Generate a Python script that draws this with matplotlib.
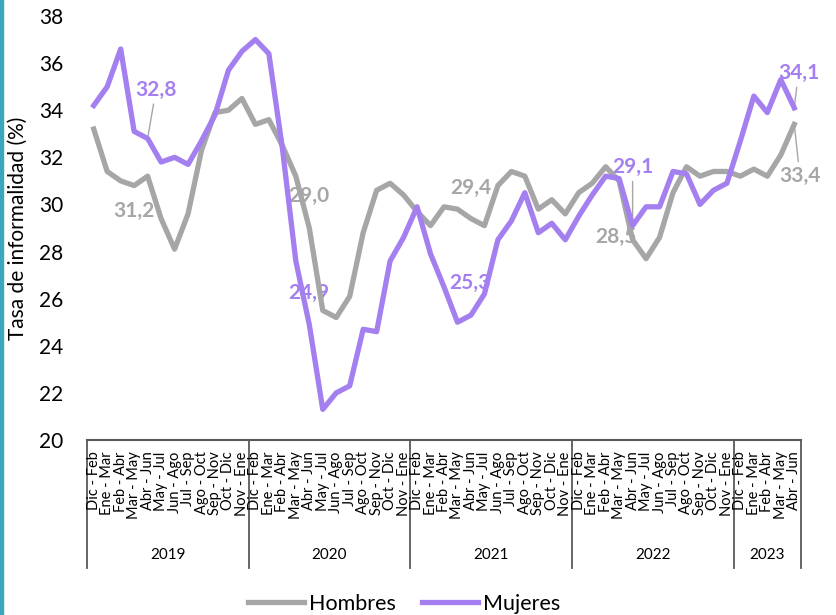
import matplotlib
matplotlib.use('Agg')
import matplotlib.pyplot as plt
from matplotlib.patches import Rectangle

plt.rcParams['font.family'] = ['Lato', 'DejaVu Sans']

# Datos: trimestres moviles 2019 - 2023
trimestres = ["Dic - Feb", "Ene - Mar", "Feb - Abr", "Mar - May", "Abr - Jun", "May - Jul",
              "Jun - Ago", "Jul - Sep", "Ago - Oct", "Sep - Nov", "Oct - Dic", "Nov - Ene"]
anios = ["2019", "2020", "2021", "2022", "2023"]
n_por_anio = [12, 12, 12, 12, 5]

etiquetas = []
for n in n_por_anio:
    etiquetas += trimestres[:n]

hombres = [33.2, 31.4, 31.0, 30.8, 31.2, 29.4, 28.1, 29.6, 32.3, 33.9, 34.0, 34.5,
           33.4, 33.6, 32.5, 31.2, 29.0, 25.5, 25.2, 26.1, 28.8, 30.6, 30.9, 30.4,
           29.7, 29.1, 29.9, 29.8, 29.4, 29.1, 30.8, 31.4, 31.2, 29.8, 30.2, 29.6,
           30.5, 30.9, 31.6, 31.0, 28.5, 27.7, 28.6, 30.5, 31.6, 31.2, 31.4, 31.4,
           31.2, 31.5, 31.2, 32.1, 33.4]
mujeres = [34.2, 35.0, 36.6, 33.1, 32.8, 31.8, 32.0, 31.7, 32.7, 33.8, 35.7, 36.5,
           37.0, 36.4, 32.4, 27.6, 24.9, 21.3, 22.0, 22.3, 24.7, 24.6, 27.6, 28.6,
           29.9, 27.9, 26.5, 25.0, 25.3, 26.2, 28.5, 29.3, 30.5, 28.8, 29.2, 28.5,
           29.5, 30.4, 31.2, 31.1, 29.1, 29.9, 29.9, 31.4, 31.3, 30.0, 30.6, 30.9,
           32.7, 34.6, 33.9, 35.3, 34.1]

# (serie, indice, desplazamiento en puntos, con linea guia)
etiquetas_datos = [
    ("m", 4, (6, 35), True),
    ("h", 4, (-10, -25), False),
    ("m", 16, (0, 23), False),
    ("h", 16, (0, 23), False),
    ("m", 28, (-1, 23), False),
    ("h", 28, (0, 22), False),
    ("m", 40, (0, 42), True),
    ("h", 40, (-12, 2), False),
    ("m", 52, (3, 25), True),
    ("h", 52, (4, -37), True),
]

GRIS = "#A6A6A6"
MORADO = "#A47FEF"
EJE = "#595959"

fig = plt.figure(figsize=(8.36, 6.15), dpi=100)
ax = fig.add_axes([87 / 836, 1 - 440 / 615, 714 / 836, 424 / 615])

x = list(range(len(etiquetas)))
ax.plot(x, hombres, color=GRIS, linewidth=3.8, label="Hombres", zorder=3,
        solid_joinstyle="round")
ax.plot(x, mujeres, color=MORADO, linewidth=3.8, label="Mujeres", zorder=4,
        solid_joinstyle="round")

ax.set_xlim(-0.5, len(etiquetas) - 0.5)
ax.set_ylim(20, 38)
ax.set_yticks(range(20, 39, 2))
ax.tick_params(axis="y", length=0, pad=17, labelsize=15)
ax.set_xticks([])
ax.set_ylabel("Tasa de informalidad (%)", fontsize=15)
ax.yaxis.set_label_coords(-0.083, 0.5)

for lado in ["left", "right", "top"]:
    ax.spines[lado].set_visible(False)
ax.spines["bottom"].set_color(EJE)
ax.spines["bottom"].set_linewidth(1.5)

# Eje de categorias multinivel
tr = ax.get_xaxis_transform()
for i, lab in enumerate(etiquetas):
    ax.text(i, -0.027, lab, transform=tr, rotation=90, ha="center", va="top",
            fontsize=10.5, color="black", clip_on=False)

inicio = -0.5
ax.plot([inicio, inicio], [0, -0.302], transform=tr, color=EJE, lw=1.3, clip_on=False)
for anio, n in zip(anios, n_por_anio):
    fin = inicio + n
    ax.plot([fin, fin], [0, -0.302], transform=tr, color=EJE, lw=1.3, clip_on=False)
    ax.text((inicio + fin) / 2, -0.271, anio, transform=tr, ha="center", va="center",
            fontsize=11, clip_on=False)
    inicio = fin

# Etiquetas de datos
for serie, i, off, guia in etiquetas_datos:
    valores = mujeres if serie == "m" else hombres
    color = MORADO if serie == "m" else GRIS
    texto = f"{valores[i]:.1f}".replace(".", ",")
    props = dict(arrowstyle="-", color=GRIS, lw=1, shrinkA=1, shrinkB=2) if guia else None
    ax.annotate(texto, xy=(i, valores[i]), xytext=off, textcoords="offset points",
                ha="center", va="center", fontsize=15, fontweight="bold", color=color,
                arrowprops=props, zorder=1, annotation_clip=False)

fig.legend(loc="center", bbox_to_anchor=(404 / 836, 1 - 604 / 615), ncol=2, frameon=False,
           fontsize=15.5, handlelength=2.6, handletextpad=0.25, columnspacing=1.2)

fig.patches.append(Rectangle((0, 0), 3 / 836, 1, transform=fig.transFigure,
                             color="#3BA7BD", zorder=0))

fig.savefig("out.png", dpi=100)
